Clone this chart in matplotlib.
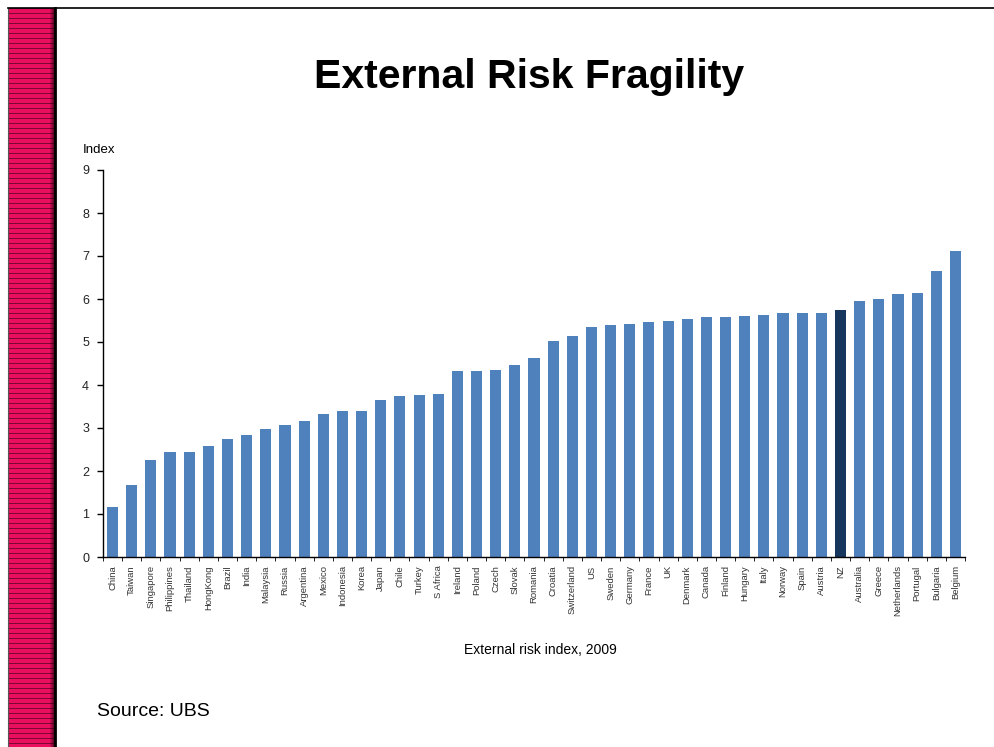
import matplotlib
matplotlib.use("Agg")
import matplotlib.pyplot as plt
import numpy as np

plt.rcParams['font.family'] = ['Liberation Sans', 'DejaVu Sans']

# Data
countries = ['China', 'Taiwan', 'Singapore', 'Philippines', 'Thailand', 'HongKong',
             'Brazil', 'India', 'Malaysia', 'Russia', 'Argentina', 'Mexico',
             'Indonesia', 'Korea', 'Japan', 'Chile', 'Turkey', 'S Africa',
             'Ireland', 'Poland', 'Czech', 'Slovak', 'Romania', 'Croatia',
             'Switzerland', 'US', 'Sweden', 'Germany', 'France', 'UK',
             'Denmark', 'Canada', 'Finland', 'Hungary', 'Italy', 'Norway',
             'Spain', 'Austria', 'NZ', 'Australia', 'Greece', 'Netherlands',
             'Portugal', 'Bulgaria', 'Belgium']
values = [1.16, 1.67, 2.25, 2.45, 2.45, 2.58,
          2.74, 2.83, 2.97, 3.06, 3.17, 3.32,
          3.40, 3.40, 3.64, 3.74, 3.76, 3.78,
          4.32, 4.32, 4.34, 4.46, 4.62, 5.02,
          5.13, 5.35, 5.40, 5.42, 5.47, 5.50,
          5.53, 5.58, 5.58, 5.60, 5.63, 5.67,
          5.67, 5.67, 5.74, 5.95, 6.00, 6.12,
          6.14, 6.65, 7.12]
highlight = 'NZ'
y_ticks = list(range(0, 10))

bar_color = '#4F81BD'
hi_color = '#17365D'

W, H = 994, 747
fig = plt.figure(figsize=(W / 100, H / 100), dpi=100)
fig.patch.set_facecolor('white')

# decorative striped band on the left (fine horizontal lines, darker to the right)
band = fig.add_axes([8 / W, 0, 47 / W, 739 / H])
rows, cols = 739, 47
pink = np.array([0.91, 0.06, 0.37])
dark = np.array([0.50, 0.03, 0.20])
pattern = np.zeros((rows, cols, 3))
for i in range(rows):
    pattern[i, :] = dark if i % 5 == 0 else pink
shade = np.ones(cols)
shade[-6:] = np.linspace(1.0, 0.35, 6)
pattern = pattern * shade[None, :, None]
band.imshow(pattern, aspect='auto', interpolation='nearest')
band.set_xticks([])
band.set_yticks([])
for s in ['top', 'bottom']:
    band.spines[s].set_visible(False)
band.spines['left'].set_linewidth(0.8)
band.spines['left'].set_color('#555555')
band.spines['right'].set_linewidth(2.0)
band.spines['right'].set_color('black')

# top border line
fig.add_artist(plt.Line2D([8 / W, 1.0], [739 / H, 739 / H], color='black', lw=1.2))

ax = fig.add_axes([103 / W, 190 / H, 862 / W, 387 / H])
x = np.arange(len(countries))
colors = [hi_color if c == highlight else bar_color for c in countries]
ax.bar(x, values, width=0.58, color=colors, zorder=2)

ax.set_xlim(-0.5, len(countries) - 0.5)
ax.set_ylim(0, 9)
ax.set_yticks(y_ticks)
ax.tick_params(axis='y', labelsize=9, length=4, direction='out', width=1, pad=6,
               labelcolor='#222222')
ax.set_xticks(x)
ax.set_xticklabels(countries, rotation=90, fontsize=6.8, color='#333333')
ax.tick_params(axis='x', length=0, pad=6)
ax.set_xticks(np.arange(-0.5, len(countries)), minor=True)
ax.tick_params(axis='x', which='minor', length=3, direction='out')
for s in ['top', 'right']:
    ax.spines[s].set_visible(False)
ax.spines['left'].set_linewidth(1.0)
ax.spines['bottom'].set_linewidth(1.0)

fig.text(529 / W, 1 - 77 / H, 'External Risk Fragility', ha='center', va='center',
         fontsize=29.5, fontweight='bold')
fig.text(83 / W, 1 - 150 / H, 'Index', ha='left', va='center', fontsize=9.5)
fig.text(540 / W, 1 - 650 / H, 'External risk index, 2009', ha='center', va='center',
         fontsize=10)
fig.text(97 / W, 1 - 712 / H, 'Source: UBS', ha='left', va='center', fontsize=14)

fig.savefig('out.png', dpi=100, facecolor='white')
